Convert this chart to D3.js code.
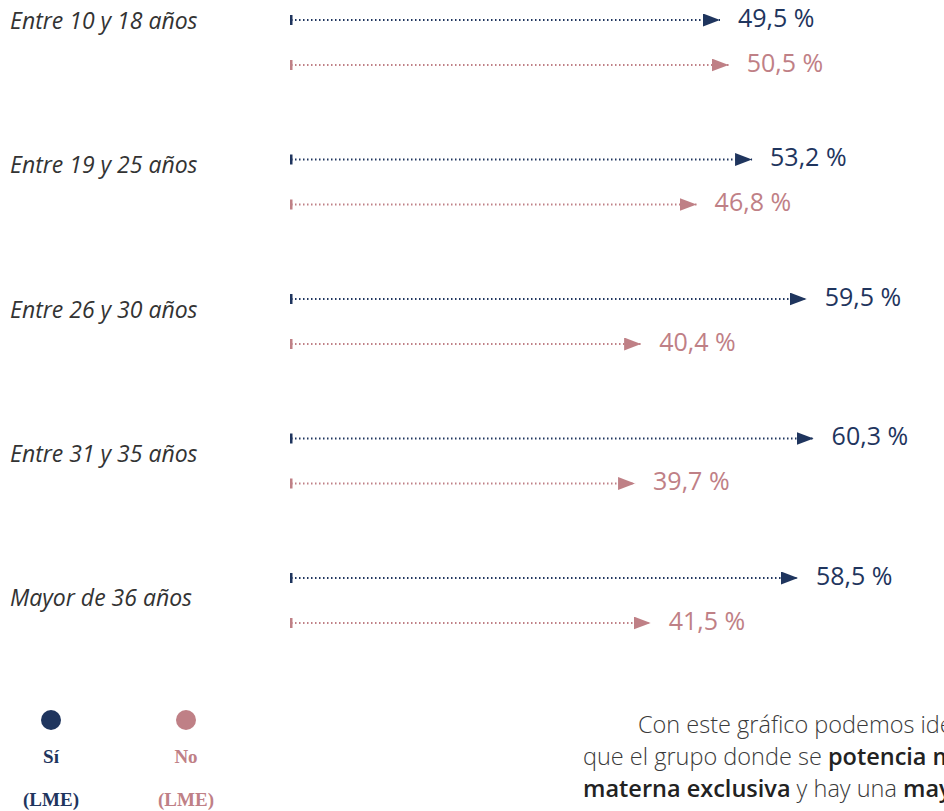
<!DOCTYPE html>
<html>
<head>
<meta charset="utf-8">
<script src="https://cdn.jsdelivr.net/npm/d3@7"></script>
<style>
  body { margin: 0; background: #fff; }
  svg { display: block; }
</style>
</head>
<body>
<div id="wrapper"></div>
<script>
// data
const categories = ["Entre 10 y 18 años", "Entre 19 y 25 años", "Entre 26 y 30 años", "Entre 31 y 35 años", "Mayor de 36 años"]
const siValues = [49.5, 53.2, 59.5, 60.3, 58.5]
const noValues = [50.5, 46.8, 40.4, 39.7, 41.5]
const seriesNames = ["Sí", "No"]

const navy = "#1f355e"
const pink = "#bf8086"

function drawChart() {
  const dimensions = { width: 944, height: 811 }

  const svg = d3.select("#wrapper")
    .append("svg")
      .attr("width", dimensions.width)
      .attr("height", dimensions.height)
      .style("font-family", "'Open Sans', sans-serif")

  // markers
  const defs = svg.append("defs")
  ;[["si", navy], ["no", pink]].forEach(([id, color]) => {
    defs.append("marker")
      .attr("id", `arrow-${id}`)
      .attr("viewBox", "0 0 17 13")
      .attr("refX", 17)
      .attr("refY", 6.5)
      .attr("markerWidth", 17)
      .attr("markerHeight", 13)
      .attr("markerUnits", "userSpaceOnUse")
      .attr("orient", "auto")
      .append("path")
        .attr("d", "M0,0 L17,6.5 L0,13 Z")
        .attr("fill", color)
  })

  // scales
  const xScale = d3.scaleLinear()
    .domain([0, 60])
    .range([291, 811])

  const yScale = d3.scalePoint()
    .domain(categories)
    .range([20, 578])

  const labelScale = d3.scalePoint()
    .domain(categories)
    .range([23, 600])

  const rows = []
  categories.forEach((c, i) => {
    rows.push({ cat: c, series: "si", value: siValues[i], dy: 0, color: navy })
    rows.push({ cat: c, series: "no", value: noValues[i], dy: 45, color: pink })
  })

  const fmt = v => d3.format(".1f")(v).replace(".", ",") + " %"

  // category labels
  svg.selectAll(".cat-label")
    .data(categories)
    .enter().append("text")
      .attr("class", "cat-label")
      .attr("x", 10)
      .attr("y", d => labelScale(d))
      .attr("dominant-baseline", "middle")
      .attr("font-size", 23)
      .attr("font-style", "italic")
      .attr("fill", "#333")
      .text(d => d)

  const bars = svg.selectAll(".row")
    .data(rows)
    .enter().append("g")
      .attr("class", "row")

  bars.append("line")
    .attr("x1", xScale(0))
    .attr("x2", d => xScale(d.value))
    .attr("y1", d => yScale(d.cat) + d.dy)
    .attr("y2", d => yScale(d.cat) + d.dy)
    .attr("stroke", d => d.color)
    .attr("stroke-width", 1.8)
    .attr("stroke-dasharray", "1.5 2.5")
    .attr("marker-end", d => `url(#arrow-${d.series})`)

  bars.append("rect")
    .attr("x", xScale(0) - 1)
    .attr("y", d => yScale(d.cat) + d.dy - 5)
    .attr("width", 2.5)
    .attr("height", 10)
    .attr("fill", d => d.color)

  bars.append("text")
    .attr("x", d => xScale(d.value) + 18)
    .attr("y", d => yScale(d.cat) + d.dy)
    .attr("dominant-baseline", "middle")
    .attr("font-size", 25)
    .attr("fill", d => d.color)
    .text(d => fmt(d.value))

  // legend
  const legend = svg.append("g").attr("id", "legend")
  const legendX = [51, 186]
  seriesNames.forEach((name, i) => {
    const color = i === 0 ? navy : pink
    legend.append("circle")
      .attr("cx", legendX[i])
      .attr("cy", 720)
      .attr("r", 10)
      .attr("fill", color)
    legend.append("text")
      .attr("x", legendX[i])
      .attr("y", 763)
      .attr("text-anchor", "middle")
      .attr("font-family", "'Liberation Serif', 'DejaVu Serif', serif")
      .attr("font-weight", "bold")
      .attr("font-size", 19)
      .attr("fill", color)
      .text(name)
    legend.append("text")
      .attr("x", legendX[i])
      .attr("y", 806)
      .attr("text-anchor", "middle")
      .attr("font-family", "'Liberation Serif', 'DejaVu Serif', serif")
      .attr("font-weight", "bold")
      .attr("font-size", 19)
      .attr("fill", color)
      .text("(LME)")
  })

  // paragraph (runs past the right edge as in the original layout)
  const para = [
    { x: 638, y: 733, parts: [["Con este gráfico podemos identificar", false]] },
    { x: 583, y: 765, parts: [["que el grupo donde se ", false], ["potencia más la lactancia", true]] },
    { x: 583, y: 797, parts: [["materna exclusiva", true], [" y hay una ", false], ["mayor", true]] }
  ]
  para.forEach(line => {
    const t = svg.append("text")
      .attr("x", line.x)
      .attr("y", line.y)
      .attr("font-size", 23.5)
    line.parts.forEach(([txt, bold]) => {
      t.append("tspan")
        .attr("font-weight", bold ? 600 : 300)
        .attr("fill", bold ? "#222" : "#3a3a3a")
        .text(txt)
    })
  })
}

drawChart()
</script>
</body>
</html>
